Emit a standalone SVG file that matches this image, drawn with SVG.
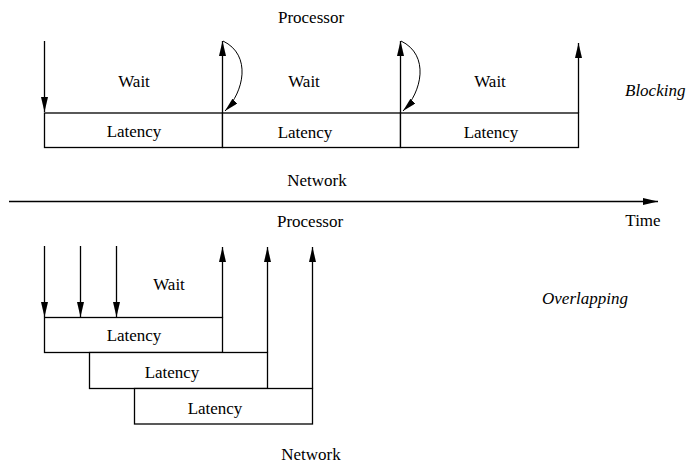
<svg xmlns="http://www.w3.org/2000/svg" width="687" height="463" viewBox="0 0 687 463">
<style>
.ln{stroke:#000;stroke-width:1.3;fill:none}
.cv{stroke:#000;stroke-width:1;fill:none}
.bx{stroke:#000;stroke-width:1.3;fill:#fff}
text{font-family:"Liberation Serif","Times New Roman",serif;font-size:17px;fill:#000}
.m{text-anchor:middle}
.it{font-style:italic}
</style>
<defs>
<marker id="ah" markerUnits="userSpaceOnUse" markerWidth="16" markerHeight="8" refX="15" refY="3.5" orient="auto">
<path d="M0,0 L15,3.5 L0,7 z" fill="#000"/>
</marker>
<marker id="ahs" markerUnits="userSpaceOnUse" markerWidth="16" markerHeight="8" refX="14" refY="3.5" orient="auto">
<path d="M0,0 L14,3.5 L0,7 z" fill="#000"/>
</marker>
</defs>
<g id="blocking">
<g id="b-latency1"><rect class="bx" x="44.5" y="113" width="178" height="34.5"/><text class="m" x="134" y="137">Latency</text></g>
<g id="b-latency2"><rect class="bx" x="222.5" y="113" width="178" height="34.5"/><text class="m" x="305" y="138">Latency</text></g>
<g id="b-latency3"><rect class="bx" x="400.5" y="113" width="178" height="34.5"/><text class="m" x="491" y="138">Latency</text></g>
<text class="m" x="311" y="23">Processor</text>
<text class="m" x="134" y="87">Wait</text>
<text class="m" x="304" y="87">Wait</text>
<text class="m" x="490" y="87">Wait</text>
<text class="it" x="625" y="96">Blocking</text>
</g>
<g id="overlapping">
<g id="o-latency1"><rect class="bx" x="44.5" y="317.5" width="178" height="35"/><text class="m" x="134" y="341">Latency</text></g>
<g id="o-latency2"><rect class="bx" x="89.5" y="352.5" width="178" height="36"/><text class="m" x="172" y="378">Latency</text></g>
<g id="o-latency3"><rect class="bx" x="134.5" y="388.5" width="178" height="35.5"/><text class="m" x="215" y="414">Latency</text></g>
<text class="m" x="169" y="290">Wait</text>
<text class="it m" x="585" y="304">Overlapping</text>
<text class="m" x="311" y="460">Network</text>
</g>
<g id="axis">
<text class="m" x="317" y="186">Network</text>
<text class="m" x="310" y="227">Processor</text>
<text class="m" x="643" y="226">Time</text>
</g>
<g id="connectors">
<line class="ln" x1="9" y1="201.5" x2="658" y2="201.5" marker-end="url(#ah)"/>
<line class="ln" x1="44.5" y1="41" x2="44.5" y2="112" marker-end="url(#ah)"/>
<line class="ln" x1="222.5" y1="113" x2="222.5" y2="41" marker-end="url(#ah)"/>
<line class="ln" x1="400.5" y1="113" x2="400.5" y2="41" marker-end="url(#ah)"/>
<line class="ln" x1="578.5" y1="113" x2="578.5" y2="43" marker-end="url(#ah)"/>
<path class="cv" d="M223,41 C252,55 244,92 225,111" marker-end="url(#ahs)"/>
<path class="cv" d="M401,41 C430,55 422,92 403,111" marker-end="url(#ahs)"/>
<line class="ln" x1="44.5" y1="246" x2="44.5" y2="317" marker-end="url(#ah)"/>
<line class="ln" x1="80.5" y1="246" x2="80.5" y2="317" marker-end="url(#ah)"/>
<line class="ln" x1="116.5" y1="246" x2="116.5" y2="317" marker-end="url(#ah)"/>
<line class="ln" x1="222.5" y1="317.5" x2="222.5" y2="247" marker-end="url(#ah)"/>
<line class="ln" x1="267.5" y1="352.5" x2="267.5" y2="247" marker-end="url(#ah)"/>
<line class="ln" x1="312.5" y1="388.5" x2="312.5" y2="247" marker-end="url(#ah)"/>
</g>
</svg>
